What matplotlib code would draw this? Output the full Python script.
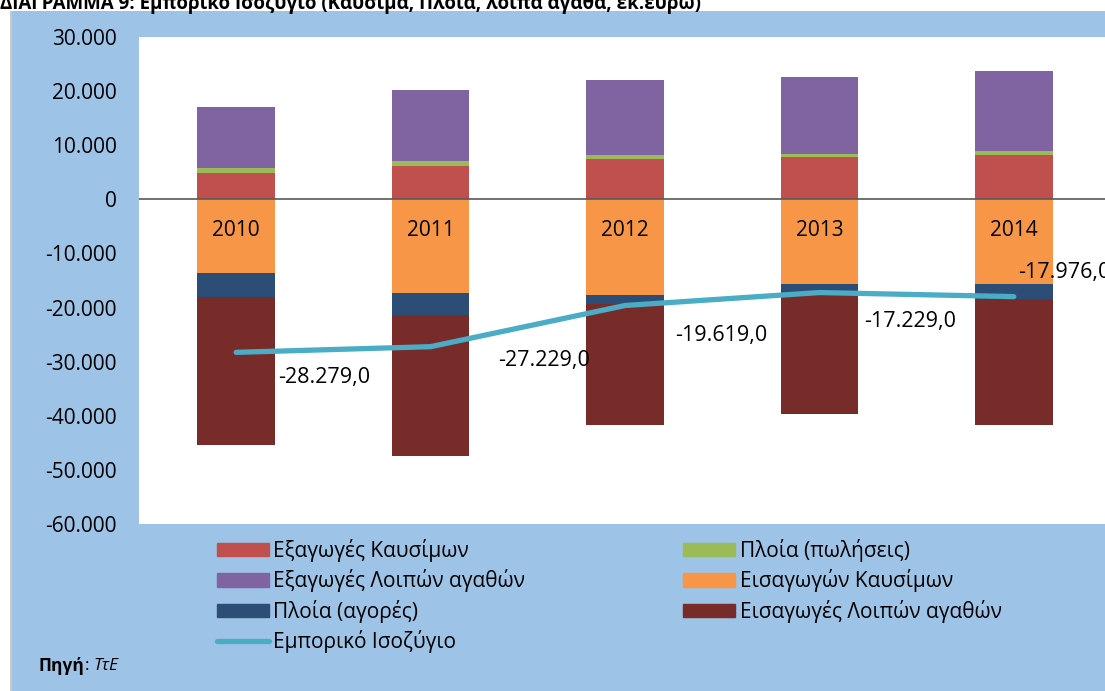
import numpy as np
import matplotlib
matplotlib.use("Agg")
import matplotlib.pyplot as plt
from matplotlib.patches import Rectangle, Patch
from matplotlib.lines import Line2D
from matplotlib.ticker import FuncFormatter, MultipleLocator

plt.rcParams['font.family'] = ['Open Sans', 'DejaVu Sans']

years = ['2010', '2011', '2012', '2013', '2014']
# εκ. ευρώ
exp_fuel = [4900, 6200, 7450, 7870, 8190]
ships_sales = [830, 880, 680, 500, 740]
exp_other = [11370, 13120, 13900, 14180, 14720]
imp_fuel = [-13560, -17260, -17690, -15650, -15710]
ships_buy = [-4490, -4070, -1710, -1910, -2770]
imp_other = [-27350, -26170, -22250, -22170, -23170]
balance = [-28279.0, -27229.0, -19619.0, -17229.0, -17976.0]
balance_labels = ['-28.279,0', '-27.229,0', '-19.619,0', '-17.229,0', '-17.976,0']

c_red = '#C0504D'
c_green = '#9BBB59'
c_purple = '#8064A2'
c_orange = '#F79646'
c_navy = '#2C4D75'
c_maroon = '#772C2A'
c_line = '#4BACC6'
c_bg = '#9DC3E6'

W, H = 1105, 691
fig = plt.figure(figsize=(W / 100, H / 100), dpi=100)

# blue panel + thin grey left border
fig.patches.append(Rectangle((12 / W, 0), 1, (H - 11) / H, transform=fig.transFigure,
                             facecolor=c_bg, edgecolor='none', zorder=-10))
fig.patches.append(Rectangle((10 / W, 0), 2 / W, (H - 11) / H, transform=fig.transFigure,
                             facecolor='#C8C8C8', edgecolor='none', zorder=-10))
fig.text(0, (H - 9) / H, 'ΔΙΑΓΡΑΜΜΑ 9: Εμπορικό Ισοζύγιο (Καύσιμα, Πλοία, λοιπά αγαθά, εκ.ευρώ)',
         fontsize=13.5, fontweight='bold', va='baseline', ha='left')

ax = fig.add_axes([139 / W, (H - 524) / H, 972 / W, 487 / H])
ax.set_facecolor('white')
x = np.arange(len(years))
bw = 0.40

exp_fuel_a = np.array(exp_fuel)
ships_sales_a = np.array(ships_sales)
imp_fuel_a = np.array(imp_fuel)
ships_buy_a = np.array(ships_buy)

ax.bar(x, exp_fuel, bw, color=c_red, zorder=2)
ax.bar(x, ships_sales, bw, bottom=exp_fuel_a, color=c_green, zorder=2)
ax.bar(x, exp_other, bw, bottom=exp_fuel_a + ships_sales_a, color=c_purple, zorder=2)
ax.bar(x, imp_fuel, bw, color=c_orange, zorder=2)
ax.bar(x, ships_buy, bw, bottom=imp_fuel_a, color=c_navy, zorder=2)
ax.bar(x, imp_other, bw, bottom=imp_fuel_a + ships_buy_a, color=c_maroon, zorder=2)
ax.axhline(0, color='#595959', lw=1.2, zorder=3)
ax.plot(x, balance, color=c_line, lw=3.8, solid_capstyle='round', zorder=4)

for xi, yr in zip(x, years):
    ax.text(xi, -5700, yr, ha='center', va='center', fontsize=15, zorder=5)

# label offsets in pixels (dx, dy)
offsets = [(88, -25), (113, -14), (96, -30), (91, -29), (4, 24)]
for i, (val, lab) in enumerate(zip(balance, balance_labels)):
    dx, dy = offsets[i]
    ax.annotate(lab, (x[i], val), xytext=(dx, dy), textcoords='offset pixels',
                ha='left' if i == 4 else 'center', va='center', fontsize=15.5, zorder=5,
                annotation_clip=False)

ax.set_xlim(-0.5, 4.5)
ax.set_ylim(-60000, 30000)
ax.yaxis.set_major_locator(MultipleLocator(10000))
ax.yaxis.set_major_formatter(FuncFormatter(lambda v, p: f'{int(v):,}'.replace(',', '.')))
ax.tick_params(axis='y', length=0, pad=16, labelsize=15)
ax.set_xticks([])
for s in ax.spines.values():
    s.set_visible(False)

handles = [
    Patch(color=c_red, label='Εξαγωγές Καυσίμων'),
    Patch(color=c_purple, label='Εξαγωγές Λοιπών αγαθών'),
    Patch(color=c_navy, label='Πλοία (αγορές)'),
    Line2D([], [], color=c_line, lw=3.8, solid_capstyle='round', label='Εμπορικό Ισοζύγιο'),
    Patch(color=c_green, label='Πλοία (πωλήσεις)'),
    Patch(color=c_orange, label='Εισαγωγών Καυσίμων'),
    Patch(color=c_maroon, label='Εισαγωγές Λοιπών αγαθών'),
]
fig.legend(handles=handles, ncol=2, loc='upper left', bbox_to_anchor=(198 / W, (H - 520) / H),
           frameon=False, fontsize=15, handlelength=2.5, handleheight=0.62,
           handletextpad=0.2, labelspacing=0.36, columnspacing=7.6)

src_y = (H - 666) / H
t = fig.text(39 / W, src_y, 'Πηγή', fontsize=12.5, fontweight='bold', va='center', ha='left')
fig.canvas.draw()
bb = t.get_window_extent()
t2 = fig.text(bb.x1 / W, src_y, ': ', fontsize=12.5, va='center', ha='left')
fig.canvas.draw()
bb2 = t2.get_window_extent()
fig.text(bb2.x1 / W, src_y, 'ΤτΕ', fontsize=12.5, fontstyle='italic', va='center', ha='left')

fig.savefig('out.png', dpi=100)
